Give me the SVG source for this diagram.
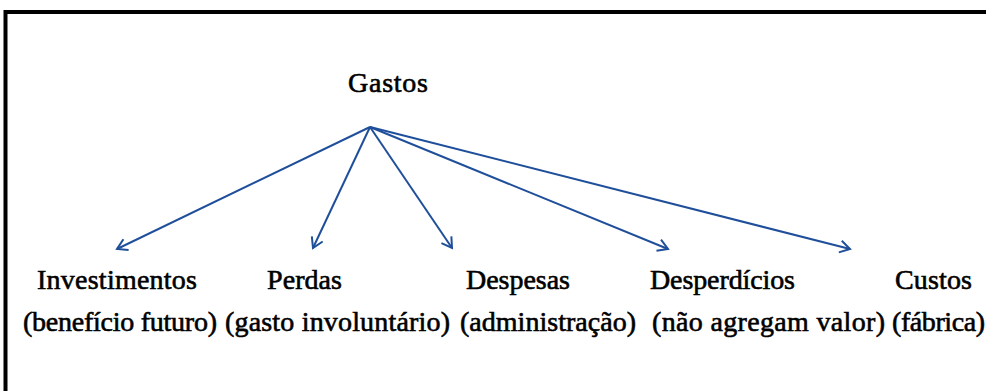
<svg xmlns="http://www.w3.org/2000/svg" width="986" height="391" viewBox="0 0 986 391">
<style>
text{font-family:"Liberation Serif","Times New Roman",serif;font-size:28px;fill:#000;stroke:#000;stroke-width:0.6}
.c{stroke:#1f4f9a;stroke-width:2;fill:none}
</style>
<defs>
<marker id="ah" markerWidth="16" markerHeight="16" refX="12" refY="8" orient="auto" markerUnits="userSpaceOnUse">
<path d="M2,2 L12,8 L2,14" fill="none" stroke="#1f4f9a" stroke-width="2"/>
</marker>
</defs>
<rect width="986" height="391" fill="#fff"/>
<path d="M5.5,391 V12 H986" fill="none" stroke="#000" stroke-width="4"/>
<g id="gastos"><text x="348" y="92" textLength="80">Gastos</text></g>
<g id="connectors">
<line class="c" x1="370" y1="127" x2="117" y2="249" marker-end="url(#ah)"/>
<line class="c" x1="370" y1="127" x2="313" y2="248" marker-end="url(#ah)"/>
<line class="c" x1="370" y1="127" x2="452" y2="248" marker-end="url(#ah)"/>
<line class="c" x1="370" y1="127" x2="668" y2="249" marker-end="url(#ah)"/>
<line class="c" x1="370" y1="127" x2="850" y2="249" marker-end="url(#ah)"/>
</g>
<g id="investimentos"><text x="37" y="289" textLength="160">Investimentos</text><text x="23" y="331" textLength="194">(benefício futuro)</text></g>
<g id="perdas"><text x="267" y="289" textLength="75">Perdas</text><text x="225" y="331" textLength="225">(gasto involuntário)</text></g>
<g id="despesas"><text x="466" y="289" textLength="104">Despesas</text><text x="460" y="331" textLength="176">(administração)</text></g>
<g id="desperdicios"><text x="650" y="289" textLength="145">Desperdícios</text><text x="652" y="331" textLength="233">(não agregam valor)</text></g>
<g id="custos"><text x="895" y="289" textLength="77">Custos</text><text x="892" y="331" textLength="93">(fábrica)</text></g>
</svg>
